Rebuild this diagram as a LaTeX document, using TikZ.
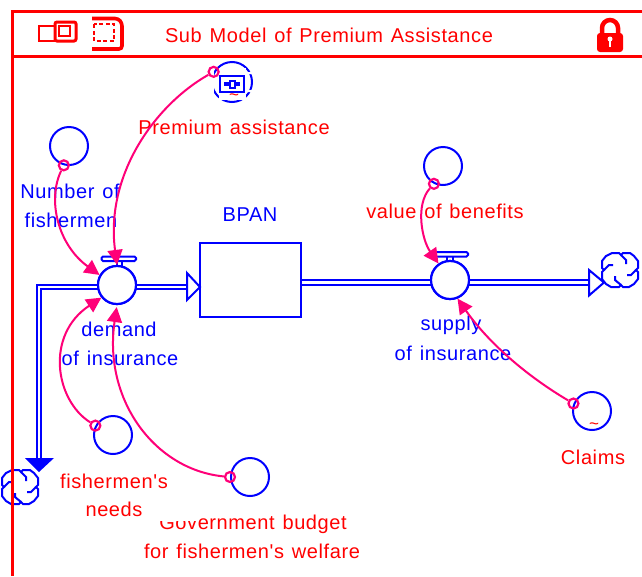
\documentclass[tikz,border=0pt]{standalone}
\usepackage{fontspec}
\setmainfont{Liberation Sans}
\newfontfamily\lblfont[LetterSpace=3]{Liberation Sans}
\usetikzlibrary{arrows.meta}
\definecolor{frame}{RGB}{255,0,0}
\definecolor{model}{RGB}{0,0,255}
\definecolor{link}{RGB}{255,0,120}
\newcommand{\lbl}{\lblfont\fontsize{20}{24}\selectfont\spaceskip=7.8pt\relax}
\tikzset{
  x=1pt,y=-1pt,
  redline/.style={draw=frame,line width=3pt},
  aux/.style={circle,draw=model,line width=2pt,minimum size=38pt,inner sep=0pt},
  flow/.style={circle,draw=model,line width=2.2pt,minimum size=38pt,inner sep=0pt,fill=white},
  stock/.style={rectangle,draw=model,line width=2pt,minimum width=101pt,minimum height=74pt,inner sep=0pt},
  pipe/.style={draw=model,line width=1.9pt,double=white,double distance=2.4pt},
  head/.style={draw=model,line width=2pt,fill=white,line join=miter},
  port/.style={circle,draw=link,line width=2.2pt,minimum size=10pt,inner sep=0pt},
  conn/.style={draw=link,line width=2pt,-{Triangle[length=15pt,width=15pt,fill=link]}},
  redtext/.style={text=frame,font=\lbl,inner sep=0pt,anchor=center},
  bluetext/.style={text=model,font=\lbl,inner sep=0pt,anchor=center},
  cloudline/.style={draw=model,line width=2pt},
}
\newcommand{\cloudat}[1]{%
  \begin{scope}[shift={(#1)}]
    \draw[cloudline,fill=white] (-8,-17) -- (-1,-17) -- (1,-15) -- (3,-17) -- (10,-17) -- (14,-14) -- (18,-9) -- (18,-2) -- (16,0) -- (18,2) -- (18,9) -- (14,14) -- (9,17) -- (3,17) -- (1,15) -- (-1,17) -- (-9,17) -- (-14,14) -- (-18,9) -- (-18,2) -- (-16,0) -- (-18,-2) -- (-18,-9) -- (-14,-14) -- cycle;
    \draw[cloudline] (1,-15) -- (6,-10) -- (6,-6);
    \draw[cloudline] (16,0) -- (11,5) -- (7,5);
    \draw[cloudline] (1,15) -- (-5,10) -- (-5,6);
    \draw[cloudline] (-16,0) -- (-11,-5) -- (-7,-5);
  \end{scope}}
\begin{document}
\begin{tikzpicture}
\useasboundingbox (0,0) rectangle (642,576);
\fill[white] (0,0) rectangle (642,576);
% frame
\draw[redline] (12.5,576) -- (12.5,11) -- (642,11);
\draw[redline] (12,56) -- (642,56);
\fill[white] (17,13) rectangle (92,55);
% window icons
\draw[draw=frame,line width=2.6pt] (39,26) rectangle (55,41);
\draw[draw=frame,line width=3pt,fill=white,rounded corners=2pt] (55,22) rectangle (76,41);
\draw[draw=frame,line width=2pt] (59,26) rectangle (70,36);
\draw[draw=frame,line width=3.6pt,rounded corners=3pt] (92,18.5) -- (118,18.5) -- (122,23) -- (122,49) -- (92,49);
\draw[draw=frame,line width=2pt,dash pattern=on 4pt off 2.5pt] (94,24) rectangle (114,41);
% lock
\fill[frame,rounded corners=3pt] (597,33) rectangle (623,52);
\draw[draw=frame,line width=4.5pt] (602,34) -- (602,28) arc[start angle=180,end angle=360,radius=8] -- (618,34);
\fill[white] (610,39) circle[radius=2.5];
\fill[white] (609,39) rectangle (611,47);
% title
\node[redtext] (title) at (329,35) {Sub Model of Premium Assistance};
% flows
\coordinate (corner) at (39,287);
\coordinate (cloudin) at (39,459);
\coordinate (inhead) at (187,287);
\coordinate (outhead) at (590,282.5);
\node[stock] (bpan) at (250.5,280) {};
\node[flow] (demand) at (117,285) {};
\node[flow] (supply) at (450,280) {};
\draw[pipe] (demand.center |- corner) -- (corner) -- (cloudin);
\draw[pipe] (demand.center |- inhead) -- (inhead);
\draw[pipe] (bpan.east |- outhead) -- (supply.center |- outhead);
\draw[pipe] (supply.center |- outhead) -- (outhead);
\node[flow] at (demand) {};
\node[flow] at (supply) {};
% valves
\draw[draw=model,line width=2pt] (117,266) -- (117,260) (122,266) -- (122,260);
\draw[draw=model,line width=2pt,fill=white,rounded corners=1.5pt] (101.5,256.5) rectangle (136,261);
\draw[draw=model,line width=2pt] (447,261) -- (447,255) (453,261) -- (453,255);
\draw[draw=model,line width=2pt,fill=white,rounded corners=1.5pt] (434.5,252) rectangle (468,256.5);
% arrowheads on flows
\draw[head] (187,273) -- (200,287) -- (187,300) -- cycle;
\draw[head] (589,270) -- (604,282.5) -- (589,295.5) -- cycle;
\fill[model] (25,458) -- (54,458) -- (39,472) -- cycle;
% clouds
\cloudat{620,270}
\cloudat{20,487}
\draw[redline] (12.5,460) -- (12.5,510);
% auxiliaries
\node[aux] (number) at (69,146) {};
\node[aux] (value) at (443,166) {};
\node[aux] (claims) at (592,411) {};
\node[aux] (needs) at (113,435) {};
\node[aux] (gov) at (250,477) {};
\node[aux,minimum size=40pt] (premium) at (232,82) {};
% premium icon (covers the circle)
\fill[white] (209,66) rectangle (214,98);
\fill[white] (248,72) rectangle (253,74) (248,90) rectangle (253,92);
\fill[white] (219,68) rectangle (246,100);
\draw[draw=model,line width=2pt] (220,76) rectangle (244,92);
\fill[model] (224,82) rectangle (240,86);
\draw[draw=model,line width=2pt,fill=white] (229.5,80.5) rectangle (234.5,88);
\node[text=frame,font=\fontsize{17}{17}\selectfont,inner sep=0pt] (ptilde) at (234,97) {\char"7E};
\node[text=frame,font=\fontsize{17}{17}\selectfont,inner sep=0pt] (ctilde) at (594,426) {\char"7E};
% labels
\node[redtext] (lprem) at (234,127) {Premium assistance};
\node[bluetext] (lnum1) at (70,191) {Number of};
\node[bluetext] (lnum2) at (71,220) {fishermen};
\node[redtext,text=model] (lbpan) at (250,215) {BPAN};
\node[redtext] (lval) at (445,211) {value of benefits};
\node[bluetext] (ldem1) at (119,329) {demand};
\node[bluetext] (ldem2) at (120,358) {of insurance};
\node[bluetext] (lsup1) at (451,325) {supply};
\node[bluetext] (lsup2) at (453,353) {of insurance};
\node[redtext] (lneed1) at (114,481) {fishermen's};
\node[redtext] (lneed2) at (114,509) {needs};
\node[redtext] (lclaim) at (593,457) {Claims};
\node[redtext] (lgov1) at (253,524) {Government budget};
\node[redtext] (lgov2) at (252,551) {for fishermen's welfare};
\fill[white] (155,508) rectangle (197,521);
% connectors
\node[port] (pprem) at (premium.151) {};
\node[port] (pnum) at (number.255) {};
\node[port] (pval) at (value.243) {};
\node[port] (pclaim) at (claims.158) {};
\node[port] (pneed) at (needs.152) {};
\node[port] (pgov) at (gov.180) {};
\draw[conn] (pprem) .. controls (155,105) and (105,175) .. (demand.90);
\draw[conn] (pnum) .. controls (47,200) and (58,245) .. (demand.150);
\draw[conn] (pval) .. controls (415,205) and (422,240) .. (supply.125);
\draw[conn] (pclaim) .. controls (530,378) and (490,345) .. (supply.292);
\draw[conn] (pneed) .. controls (55,400) and (45,335) .. (demand.219);
\draw[conn,shorten >=2pt] (pgov) .. controls (155,470) and (103,400) .. (demand.270);
\end{tikzpicture}
\end{document}
